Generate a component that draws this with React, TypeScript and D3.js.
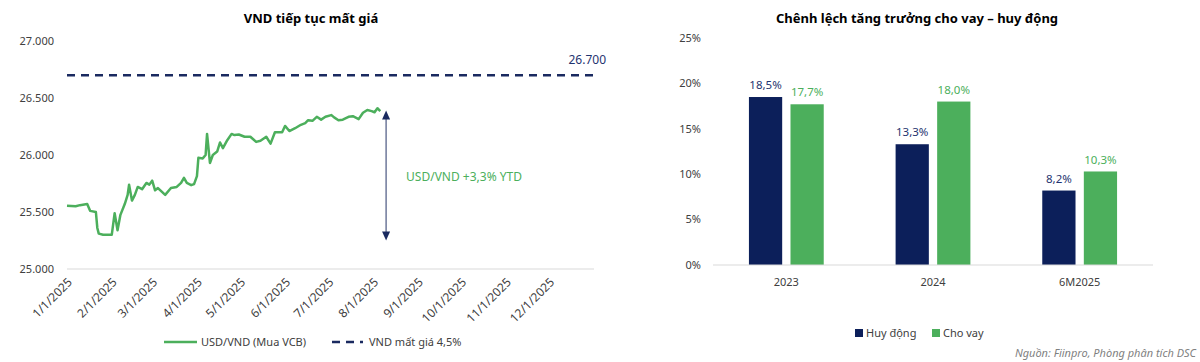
import React, { useEffect, useRef } from "react";
import * as d3 from "d3";

// USD/VND (Mua VCB), 2025
const fxDates = [
  "2025-01-01", "2025-01-07", "2025-01-10", "2025-01-15", "2025-01-17", "2025-01-21", "2025-01-22",
  "2025-01-23", "2025-01-26", "2025-02-01", "2025-02-03", "2025-02-05", "2025-02-07", "2025-02-10",
  "2025-02-12", "2025-02-13", "2025-02-15", "2025-02-17", "2025-02-19", "2025-02-22", "2025-02-25",
  "2025-02-27", "2025-03-01", "2025-03-03", "2025-03-05", "2025-03-10", "2025-03-14", "2025-03-18",
  "2025-03-21", "2025-03-23", "2025-03-25", "2025-03-28", "2025-03-30", "2025-04-01", "2025-04-02",
  "2025-04-05", "2025-04-07", "2025-04-08", "2025-04-10", "2025-04-12", "2025-04-15", "2025-04-17",
  "2025-04-19", "2025-04-22", "2025-04-25", "2025-04-27", "2025-04-30", "2025-05-04", "2025-05-08",
  "2025-05-12", "2025-05-15", "2025-05-19", "2025-05-22", "2025-05-25", "2025-05-30", "2025-06-01",
  "2025-06-04", "2025-06-08", "2025-06-12", "2025-06-15", "2025-06-17", "2025-06-20", "2025-06-23",
  "2025-06-26", "2025-06-29", "2025-07-03", "2025-07-05", "2025-07-08", "2025-07-11", "2025-07-15",
  "2025-07-18", "2025-07-22", "2025-07-25", "2025-07-28", "2025-07-31", "2025-08-02", "2025-08-04",
  "2025-08-06",
];
const fxValues = [
  25555, 25550, 25560, 25570, 25510, 25500, 25360,
  25310, 25300, 25300, 25490, 25340, 25475, 25570,
  25650, 25740, 25600, 25650, 25720, 25700, 25755,
  25740, 25775, 25690, 25710, 25650, 25710, 25720,
  25755, 25800, 25755, 25735, 25745, 25815, 25975,
  25970, 26000, 26185, 25930, 26000, 26030, 26110,
  26060, 26130, 26185, 26175, 26180, 26160, 26160,
  26115, 26125, 26160, 26100, 26200, 26200, 26255,
  26210, 26235, 26265, 26280, 26305, 26300, 26335,
  26310, 26335, 26350, 26330, 26305, 26310, 26335,
  26340, 26315, 26370, 26395, 26385, 26375, 26410,
  26385,
];
const fxTicks = [25000, 25500, 26000, 26500, 27000];
const devalueLevel = 26700;
const arrowDate = "2025-08-10";
const arrowRange = [26390, 25250];

const categories = ["2023", "2024", "6M2025"];
const huyDong = [18.5, 13.3, 8.2];
const choVay = [17.7, 18.0, 10.3];
const seriesNames = ["Huy động", "Cho vay"];
const pctTicks = [0, 5, 10, 15, 20, 25];

const NAVY = "#0c1f5a";
const GREEN = "#4caf5c";
const LABEL_NAVY = "#1f3470";
const FONT = "'Noto Sans', 'DejaVu Sans', sans-serif";

const vn = d3.formatLocale({ decimal: ",", thousands: ".", grouping: [3], currency: ["", ""] });

function App() {
  const ref = useRef<SVGSVGElement>(null);

  useEffect(() => {
    document.body.style.margin = "0";
    const svg = d3.select(ref.current);
    svg.selectAll("*").remove();
    svg.attr("font-family", FONT).attr("font-size", 11).attr("fill", "#404040");

    // ---------- left: line chart ----------
    const left = svg.append("g");
    const parse = d3.timeParse("%Y-%m-%d");
    const fx = fxDates.map((d, i) => ({ date: parse(d) as Date, value: fxValues[i] }));

    const x = d3.scaleTime()
      .domain([new Date(2025, 0, 1), new Date(2026, 0, 1)])
      .range([67, 594]);
    const y = d3.scaleLinear().domain([25000, 27000]).range([269, 41]);

    left.append("text")
      .attr("x", 311).attr("y", 23)
      .attr("text-anchor", "middle")
      .attr("font-size", 13).attr("font-weight", "bold").attr("fill", "#000")
      .text("VND tiếp tục mất giá");

    left.selectAll(".ytick")
      .data(fxTicks)
      .enter().append("text")
      .attr("x", 54).attr("y", (d) => y(d))
      .attr("dy", "0.35em")
      .attr("text-anchor", "end")
      .text((d) => vn.format(",.0f")(d));

    left.append("line")
      .attr("x1", 67).attr("x2", 594)
      .attr("y1", y(25000)).attr("y2", y(25000))
      .attr("stroke", "#d9d9d9").attr("stroke-width", 1);

    const months = d3.timeMonth.range(new Date(2025, 0, 1), new Date(2026, 0, 1));
    left.selectAll(".xtick")
      .data(months)
      .enter().append("text")
      .attr("transform", (d) => "translate(" + (x(d) + 3) + "," + 280 + ") rotate(-45)")
      .attr("text-anchor", "end")
      .attr("dy", "0.35em")
      .attr("font-size", 12)
      .text((d) => d3.timeFormat("%-m/%-d/%Y")(d));

    left.append("line")
      .attr("x1", 67).attr("x2", 594)
      .attr("y1", y(devalueLevel)).attr("y2", y(devalueLevel))
      .attr("stroke", "#1a2a60").attr("stroke-width", 2.5)
      .attr("stroke-dasharray", "8,6");

    left.append("text")
      .attr("x", 606).attr("y", y(devalueLevel) - 15)
      .attr("dy", "0.35em")
      .attr("text-anchor", "end")
      .attr("font-size", 12)
      .attr("fill", LABEL_NAVY)
      .text(vn.format(",.0f")(devalueLevel));

    const line = d3.line<{ date: Date; value: number }>()
      .x((d) => x(d.date))
      .y((d) => y(d.value));

    left.append("path")
      .datum(fx)
      .attr("d", line)
      .attr("fill", "none")
      .attr("stroke", GREEN)
      .attr("stroke-width", 2.5)
      .attr("stroke-linejoin", "round");

    const ax = x(parse(arrowDate) as Date);
    const ay1 = y(arrowRange[0]);
    const ay2 = y(arrowRange[1]);
    left.append("line")
      .attr("x1", ax).attr("x2", ax)
      .attr("y1", ay1 + 4).attr("y2", ay2 - 4)
      .attr("stroke", "#4a5680").attr("stroke-width", 1.2);
    left.append("path")
      .attr("d", `M${ax - 4},${ay1 + 9} L${ax},${ay1} L${ax + 4},${ay1 + 9} Z`)
      .attr("fill", "#1a2a60");
    left.append("path")
      .attr("d", `M${ax - 4},${ay2 - 9} L${ax},${ay2} L${ax + 4},${ay2 - 9} Z`)
      .attr("fill", "#1a2a60");

    left.append("text")
      .attr("x", ax + 20).attr("y", (ay1 + ay2) / 2 + 1)
      .attr("dy", "0.35em")
      .attr("font-size", 12)
      .attr("fill", GREEN)
      .text("USD/VND +3,3% YTD");

    // legend
    left.append("line")
      .attr("x1", 164).attr("x2", 197).attr("y1", 342).attr("y2", 342)
      .attr("stroke", GREEN).attr("stroke-width", 2.5);
    left.append("text")
      .attr("x", 201).attr("y", 342).attr("dy", "0.35em")
      .text("USD/VND (Mua VCB)");
    left.append("line")
      .attr("x1", 332).attr("x2", 363).attr("y1", 342).attr("y2", 342)
      .attr("stroke", "#1a2a60").attr("stroke-width", 2.5)
      .attr("stroke-dasharray", "8,6");
    left.append("text")
      .attr("x", 369).attr("y", 342).attr("dy", "0.35em")
      .text("VND mất giá 4,5%");

    // ---------- right: grouped bars ----------
    const right = svg.append("g");
    const x0 = d3.scaleBand().domain(categories).range([713, 1153]).paddingInner(0.49).paddingOuter(0.245);
    const x1 = d3.scaleBand().domain(seriesNames).range([0, x0.bandwidth()]).paddingInner(0.2);
    const yb = d3.scaleLinear().domain([0, 25]).range([265, 38]);
    const colors = d3.scaleOrdinal<string, string>().domain(seriesNames).range([NAVY, GREEN]);
    const labelColors = d3.scaleOrdinal<string, string>().domain(seriesNames).range([LABEL_NAVY, GREEN]);

    right.append("text")
      .attr("x", 917).attr("y", 23)
      .attr("text-anchor", "middle")
      .attr("font-size", 13).attr("font-weight", "bold").attr("fill", "#000")
      .text("Chênh lệch tăng trưởng cho vay – huy động");

    right.selectAll(".ytick")
      .data(pctTicks)
      .enter().append("text")
      .attr("x", 701).attr("y", (d) => yb(d))
      .attr("dy", "0.35em")
      .attr("text-anchor", "end")
      .text((d) => d + "%");

    const rows = categories.map((c, i) => ({
      category: c,
      values: [
        { name: seriesNames[0], value: huyDong[i] },
        { name: seriesNames[1], value: choVay[i] },
      ],
    }));

    const groups = right.selectAll(".grp")
      .data(rows)
      .enter().append("g")
      .attr("transform", (d) => "translate(" + x0(d.category) + ",0)");

    groups.selectAll("rect")
      .data((d) => d.values)
      .enter().append("rect")
      .attr("x", (d) => x1(d.name) as number)
      .attr("y", (d) => yb(d.value))
      .attr("width", x1.bandwidth())
      .attr("height", (d) => yb(0) - yb(d.value))
      .attr("fill", (d) => colors(d.name));

    groups.selectAll(".val")
      .data((d) => d.values)
      .enter().append("text")
      .attr("x", (d) => (x1(d.name) as number) + x1.bandwidth() / 2)
      .attr("y", (d) => yb(d.value) - 12)
      .attr("dy", "0.35em")
      .attr("text-anchor", "middle")
      .attr("font-size", 11.5)
      .attr("fill", (d) => labelColors(d.name))
      .text((d) => vn.format(".1f")(d.value) + "%");

    right.append("line")
      .attr("x1", 713).attr("x2", 1153)
      .attr("y1", yb(0)).attr("y2", yb(0))
      .attr("stroke", "#d9d9d9").attr("stroke-width", 1);

    right.selectAll(".cat")
      .data(categories)
      .enter().append("text")
      .attr("x", (d) => (x0(d) as number) + x0.bandwidth() / 2)
      .attr("y", 282)
      .attr("dy", "0.35em")
      .attr("text-anchor", "middle")
      .text((d) => d);

    // legend
    const legendX = [855, 932];
    seriesNames.forEach((name, i) => {
      right.append("rect")
        .attr("x", legendX[i]).attr("y", 329)
        .attr("width", 8).attr("height", 8)
        .attr("fill", colors(name));
      right.append("text")
        .attr("x", legendX[i] + 11).attr("y", 333)
        .attr("dy", "0.35em")
        .text(name);
    });

    svg.append("text")
      .attr("x", 1196).attr("y", 353)
      .attr("dy", "0.35em")
      .attr("text-anchor", "end")
      .attr("font-style", "italic")
      .attr("font-size", 11)
      .attr("fill", "#7f7f7f")
      .text("Nguồn: Fiinpro, Phòng phân tích DSC");

    return () => {
      d3.select(ref.current).selectAll("*").remove();
    };
  }, []);

  return <svg ref={ref} width={1200} height={362} style={{ display: "block" }}></svg>;
}

export default App;
